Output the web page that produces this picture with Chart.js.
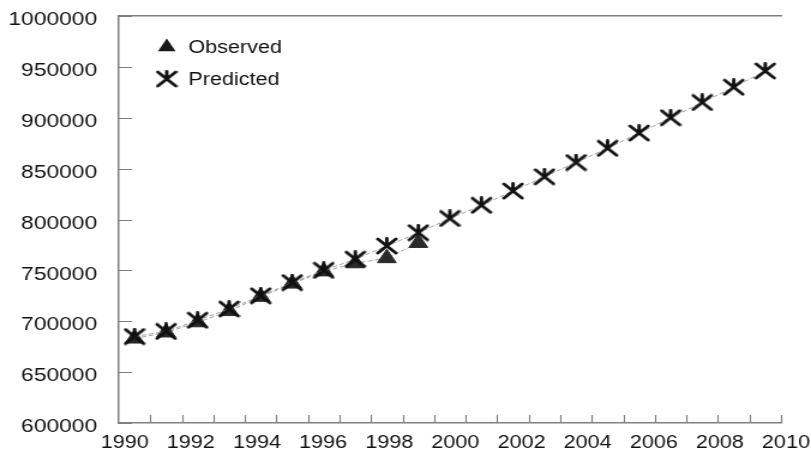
<!DOCTYPE html>
<html>
<head>
<meta charset="utf-8">
<script src="https://cdn.jsdelivr.net/npm/chart.js"></script>
<style>
  html, body { margin: 0; padding: 0; background: #fff; }
  #chart { display: block; }
</style>
</head>
<body>
<!-- the original is stretched horizontally, so draw narrower and stretch with css -->
<canvas id="chart" width="676" height="455" style="width:811px;height:455px"></canvas>
<script>
// data
const years = [1990, 1991, 1992, 1993, 1994, 1995, 1996, 1997, 1998, 1999, 2000,
               2001, 2002, 2003, 2004, 2005, 2006, 2007, 2008, 2009, 2010];
const observed = [683000, 689000, 699000, 710000, 724000, 737000, 749000, 757000, 762000, 777000];
const predicted = [685000, 690000, 701000, 712000, 725000, 738000, 750000, 761000, 774000, 787000,
                   801000, 814000, 828000, 842000, 856000, 870000, 885000, 900000, 915000, 930000, 946000];
const xTickLabels = [1990, 1992, 1994, 1996, 1998, 2000, 2002, 2004, 2006, 2008, 2010];

const AXIS_COLOR = '#808080';
const TEXT_COLOR = '#111';
const FONT = "'Liberation Sans', Arial, sans-serif";

// X-shaped marker with a stub on top
function makeCrossMarker() {
    const c = document.createElement('canvas');
    c.width = 19;
    c.height = 18;
    const g = c.getContext('2d');
    g.strokeStyle = '#111';
    g.lineWidth = 2.9;
    g.lineCap = 'round';
    g.beginPath();
    g.moveTo(2, 2); g.lineTo(17, 16);
    g.moveTo(17, 2); g.lineTo(2, 16);
    g.moveTo(9.5, 1.5); g.lineTo(9.5, 9);
    g.stroke();
    return c;
}
const crossMarker = makeCrossMarker();

function toPoints(values) {
    return values.map((v, i) => ({ x: years[i], y: v }));
}

// no extra room for overhanging labels, the layout is fixed
function noLabelPadding(scale) {
    scale.paddingTop = 0;
    scale.paddingBottom = 0;
    scale.paddingLeft = 0;
    scale.paddingRight = 0;
}

// tick marks pointing into the plot
const inwardTicks = {
    id: 'inwardTicks',
    beforeDatasetsDraw(chart) {
        const { ctx, chartArea, scales } = chart;
        ctx.save();
        ctx.strokeStyle = AXIS_COLOR;
        ctx.lineWidth = 1.2;
        ctx.beginPath();
        scales.y.ticks.forEach(t => {
            const py = Math.round(scales.y.getPixelForValue(t.value)) + 0.5;
            ctx.moveTo(chartArea.left, py);
            ctx.lineTo(chartArea.left + 11, py);
        });
        years.forEach(yr => {
            const px = Math.round(scales.x.getPixelForValue(yr + 0.5)) + 0.5;
            ctx.moveTo(px, chartArea.bottom);
            ctx.lineTo(px, chartArea.bottom - 8);
        });
        ctx.stroke();
        ctx.restore();
    }
};

// legend inside the plot, top left
const insideLegend = {
    id: 'insideLegend',
    afterDraw(chart) {
        const { ctx, chartArea } = chart;
        const mx = chartArea.left + 40;
        const tx = chartArea.left + 58;
        ctx.save();
        ctx.font = `18px ${FONT}`;
        ctx.textBaseline = 'middle';
        chart.data.datasets.forEach((ds, i) => {
            const cy = chartArea.top + 31 + i * 32;
            if (ds.pointStyle === 'triangle') {
                const r = 8.5;
                ctx.beginPath();
                ctx.moveTo(mx, cy - r);
                ctx.lineTo(mx + r * 0.866, cy + r / 2);
                ctx.lineTo(mx - r * 0.866, cy + r / 2);
                ctx.closePath();
                ctx.fillStyle = '#1a1a1a';
                ctx.fill();
            } else {
                ctx.drawImage(crossMarker, mx - crossMarker.width / 2, cy - crossMarker.height / 2);
            }
            ctx.fillStyle = TEXT_COLOR;
            ctx.fillText(ds.label, tx, cy + 1);
        });
        ctx.restore();
    }
};

const ctx = document.getElementById('chart').getContext('2d');
new Chart(ctx, {
    type: 'line',
    data: {
        datasets: [
            {
                label: 'Observed',
                data: toPoints(observed),
                order: 1,
                borderColor: '#a0a0a0',
                borderWidth: 1,
                borderDash: [4, 2],
                pointStyle: 'triangle',
                pointRadius: 9,
                pointBackgroundColor: '#2a2a2a',
                pointBorderColor: '#2a2a2a',
                pointBorderWidth: 1,
                fill: false
            },
            {
                label: 'Predicted',
                data: toPoints(predicted),
                order: 0,
                borderColor: '#a0a0a0',
                borderWidth: 1,
                borderDash: [4, 2],
                pointStyle: crossMarker,
                pointRadius: 8,
                fill: false
            }
        ]
    },
    options: {
        responsive: false,
        animation: false,
        layout: { padding: { left: 0, right: 25, top: 16, bottom: 0 } },
        plugins: {
            legend: { display: false },
            tooltip: { enabled: false }
        },
        scales: {
            x: {
                type: 'linear',
                position: 'bottom',
                weight: 0,
                min: 1989.5,
                max: 2010.5,
                grid: { display: false, drawTicks: false },
                ticks: { display: false },
                border: { display: true, color: AXIS_COLOR, width: 1.5 },
                afterFit: noLabelPadding
            },
            xl: {
                type: 'linear',
                position: 'bottom',
                weight: 1,
                min: 1989.82,
                max: 2009.85,
                grid: { display: false, drawTicks: false },
                border: { display: false },
                afterBuildTicks: scale => {
                    scale.ticks = xTickLabels.map(v => ({ value: v }));
                },
                afterFit: scale => {
                    noLabelPadding(scale);
                    scale.height = 32;
                },
                ticks: {
                    autoSkip: false,
                    maxRotation: 0,
                    padding: 9,
                    color: TEXT_COLOR,
                    font: { family: FONT, size: 18 },
                    callback: v => String(v)
                }
            },
            xt: {
                type: 'linear',
                position: 'top',
                min: 1989.5,
                max: 2010.5,
                grid: { display: false, drawTicks: false },
                ticks: { display: false },
                border: { display: true, color: AXIS_COLOR, width: 1.5 },
                afterFit: noLabelPadding
            },
            y: {
                min: 600000,
                max: 1000000,
                grid: { display: false, drawTicks: false },
                border: { display: true, color: AXIS_COLOR, width: 1.5 },
                afterFit: scale => {
                    noLabelPadding(scale);
                    scale.width = 99;
                },
                ticks: {
                    stepSize: 50000,
                    padding: 18,
                    labelOffset: 4,
                    color: TEXT_COLOR,
                    font: { family: FONT, size: 19 },
                    callback: v => String(v)
                }
            }
        }
    },
    plugins: [inwardTicks, insideLegend]
});
</script>
</body>
</html>
